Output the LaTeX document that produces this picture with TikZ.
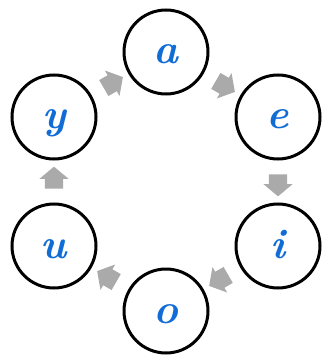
\documentclass[tikz,border=0pt]{standalone}
\usepackage{xcolor}
\usepackage{tikz}
\usetikzlibrary{shapes.arrows,calc}
\definecolor{letterblue}{RGB}{18,108,214}
\definecolor{arrowgray}{RGB}{170,170,170}

\begin{document}
\begin{tikzpicture}[x=1pt,y=-1pt,
		vowel/.style={draw,
			circle,
			line width=3pt,
			minimum size=84pt,
			inner sep=0pt,
			text=letterblue,
			font=\fontsize{42}{42}\selectfont\bfseries\itshape,
			text height=24pt,
			text depth=0pt
		},
		flow/.style={single arrow,
			fill=arrowgray,
			minimum height=22pt,
			inner xsep=0pt,
			inner ysep=9pt,
			single arrow head extend=5.5pt,
			single arrow tip angle=100
		}]
		\useasboundingbox (0,0) rectangle (324,355);

		\node[vowel] (a) at (166,52) {a};
		\node[vowel] (e) at (278,117) {e};
		\node[vowel] (i) at (278,246) {i};
		\node[vowel] (o) at (166,311) {o};
		\node[vowel] (u) at (54,246) {u};
		\node[vowel] (y) at (54,117) {y};

		\node[flow, rotate=-30] (ae) at ($(a)!0.5!(e)$) {};
		\node[flow, rotate=-90] (ei) at ($(e)!0.5!(i)$) {};
		\node[flow, rotate=-150] (io) at ($(i)!0.5!(o)$) {};
		\node[flow, rotate=150] (ou) at ($(o)!0.5!(u)$) {};
		\node[flow, rotate=90] (uy) at ($(u)!0.5!(y)$) {};
		\node[flow, rotate=30] (ya) at ($(y)!0.5!(a)$) {};

	\end{tikzpicture}
\end{document}
